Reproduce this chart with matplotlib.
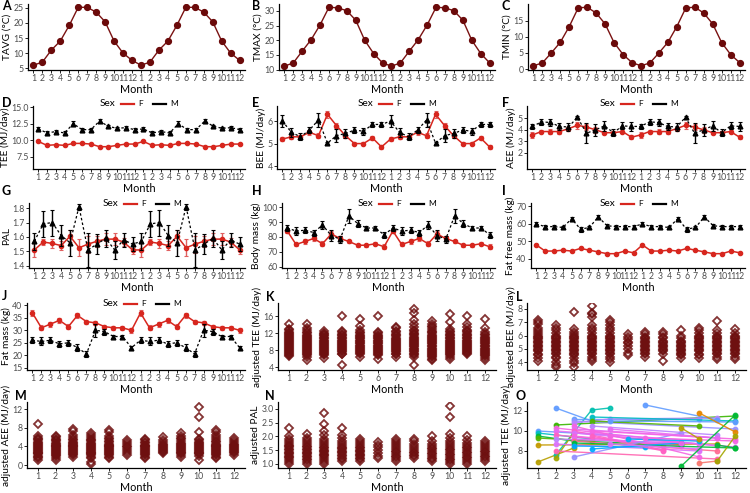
import numpy as np
import matplotlib
matplotlib.use('Agg')
import matplotlib.pyplot as plt
from matplotlib.lines import Line2D

plt.rcParams['font.family'] = ['Lato', 'DejaVu Sans']

# ---------------- data ----------------
months = [1, 2, 3, 4, 5, 6, 7, 8, 9, 10, 11, 12]
month_labels = [str(m) for m in months]

tavg = [6.0, 7.0, 11.0, 14.0, 19.2, 25.2, 25.2, 23.6, 20.4, 14.0, 10.0, 7.6]
tmax = [11.2, 12.3, 16.3, 20.2, 25.2, 31.2, 31.0, 30.0, 26.8, 20.0, 15.5, 12.3]
tmin = [1.0, 1.9, 5.0, 8.3, 13.2, 19.0, 19.2, 17.4, 14.0, 8.2, 4.5, 2.0]

tee_m = [11.7, 11.1, 11.3, 11.1, 12.5, 11.6, 11.6, 12.9, 12.1, 11.8, 11.9, 11.6]
tee_m_se = [0.25, 0.25, 0.25, 0.25, 0.35, 0.3, 0.3, 0.35, 0.25, 0.2, 0.2, 0.25]
tee_f = [9.8, 9.2, 9.3, 9.2, 9.5, 9.5, 9.4, 9.0, 9.0, 9.2, 9.4, 9.4]
tee_f_se = [0.12, 0.1, 0.1, 0.1, 0.12, 0.12, 0.12, 0.1, 0.1, 0.1, 0.1, 0.1]

bee_m = [6.0, 5.5, 5.3, 5.6, 6.05, 5.02, 5.35, 5.45, 5.6, 5.55, 5.85, 5.85]
bee_m_se = [0.25, 0.2, 0.15, 0.15, 0.3, 0.05, 0.3, 0.2, 0.15, 0.15, 0.12, 0.12]
bee_f = [5.2, 5.3, 5.3, 5.5, 5.35, 6.3, 5.8, 5.35, 5.0, 5.0, 5.25, 4.85]
bee_f_se = [0.1, 0.1, 0.1, 0.1, 0.1, 0.15, 0.1, 0.1, 0.08, 0.08, 0.08, 0.1]

aee_m = [4.3, 4.7, 4.65, 4.3, 4.25, 5.1, 3.7, 4.0, 4.35, 3.75, 4.35, 4.3]
aee_m_se = [0.2, 0.25, 0.3, 0.3, 0.35, 0.1, 0.9, 0.5, 0.45, 0.3, 0.3, 0.4]
aee_f = [3.55, 3.85, 3.85, 3.85, 4.1, 4.4, 4.25, 4.0, 3.75, 3.75, 3.85, 3.35]
aee_f_se = [0.25, 0.15, 0.2, 0.2, 0.15, 0.3, 0.3, 0.25, 0.15, 0.15, 0.15, 0.2]

pal_m = [1.57, 1.69, 1.70, 1.61, 1.56, 1.81, 1.51, 1.55, 1.59, 1.51, 1.58, 1.55]
pal_m_se = [0.06, 0.09, 0.09, 0.07, 0.09, 0.02, 0.12, 0.07, 0.06, 0.06, 0.05, 0.05]
pal_f = [1.51, 1.565, 1.555, 1.54, 1.605, 1.525, 1.55, 1.57, 1.585, 1.585, 1.565, 1.51]
pal_f_se = [0.05, 0.02, 0.03, 0.03, 0.04, 0.06, 0.06, 0.04, 0.04, 0.04, 0.03, 0.03]

bm_m = [86, 84, 84.5, 83, 88, 81, 78.5, 94, 89, 86, 86, 81.5]
bm_m_se = [2, 2.5, 2, 2, 2.5, 4, 2.5, 4.5, 2.5, 1.5, 1.5, 2]
bm_f = [84, 75, 77, 79, 75.5, 82, 79, 77, 74.5, 74.5, 75.5, 73.5]
bm_f_se = [1.5, 1, 1.5, 1.5, 1.5, 2, 2, 1, 1, 1, 1, 1.5]

ffm_m = [60, 58.5, 58.5, 58, 63, 57, 58, 64, 59, 58.5, 58.5, 58.5]
ffm_m_se = [1.2, 1, 1, 1, 1.2, 1.5, 1, 1.2, 1, 0.8, 0.8, 0.8]
ffm_f = [48, 44.5, 44.5, 45, 44.5, 46, 45, 44, 43, 43, 44.5, 43.5]
ffm_f_se = [0.6, 0.5, 0.5, 0.5, 0.5, 0.6, 0.5, 0.5, 0.5, 0.5, 0.5, 0.5]

fm_m = [26, 25.5, 26, 24.5, 25, 23, 20.5, 30, 29.5, 27.5, 27.5, 23]
fm_m_se = [1.2, 1.6, 1.2, 1.2, 1.2, 1.5, 1.3, 2.5, 1.2, 0.8, 0.8, 0.8]
fm_f = [37, 31, 32.5, 34, 31.5, 36, 33.5, 33, 31.5, 31, 31, 30]
fm_f_se = [1.2, 1, 1, 1, 1, 1, 0.8, 0.8, 0.8, 0.8, 0.8, 1]

adj_tee = [
    "6.6 6.9 7.1 7.3 7.6 7.8 8.0 8.3 8.5 8.7 9.0 9.2 9.4 9.7 9.9 10.1 10.4 10.6 10.8 11.1 11.3 11.5 11.8 12.1 12.4 12.7 13.1 14.3",
    "5.6 6.5 6.8 7.0 7.3 7.5 7.8 8.0 8.2 8.5 8.7 9.0 9.2 9.4 9.7 9.9 10.2 10.4 10.7 10.9 11.2 11.4 11.7 12.0 12.3 12.7 13.3 14.3",
    "6.2 6.8 7.0 7.3 7.5 7.8 8.0 8.3 8.5 8.8 9.0 9.3 9.5 9.8 10.0 10.3 10.5 10.8 11.0 11.3 11.5 11.8 12.1 12.5",
    "4.4 7.0 7.2 7.5 7.8 8.0 8.3 8.5 8.8 9.0 9.3 9.5 9.8 10.0 10.3 10.5 10.8 11.0 11.3 11.6 11.9 12.2 12.5 16.0",
    "6.4 7.0 7.3 7.5 7.8 8.0 8.3 8.6 8.8 9.1 9.3 9.6 9.8 10.1 10.3 10.6 10.8 11.1 11.4 11.7 12.0 12.4 12.8 13.8 15.5",
    "6.0 6.8 7.1 7.3 7.6 7.8 8.1 8.3 8.6 8.8 9.1 9.3 9.6 9.8 10.1 10.3 10.6 10.8 11.1 11.4 11.7 12.0 12.3 16.0",
    "6.3 7.0 7.2 7.5 7.7 8.0 8.2 8.5 8.7 9.0 9.2 9.5 9.7 10.0 10.2 10.5 10.7 11.0 11.3 11.6 11.9 12.2 12.6 13.2 13.6",
    "4.6 6.3 6.9 7.2 7.4 7.7 7.9 8.2 8.4 8.7 8.9 9.2 9.4 9.7 9.9 10.2 10.4 10.7 10.9 11.2 11.5 11.8 12.1 12.5 12.9 13.4 14.2 15.2 16.8 17.7",
    "5.6 6.0 6.3 6.6 6.9 7.1 7.4 7.6 7.9 8.1 8.4 8.6 8.9 9.1 9.4 9.6 9.9 10.1 10.4 10.6 10.9 11.1 11.4 11.7 12.0 12.3 12.6 13.0 13.4 13.8 14.3 15.0",
    "5.8 6.5 6.8 7.0 7.3 7.5 7.8 8.0 8.3 8.5 8.8 9.0 9.3 9.5 9.8 10.0 10.3 10.5 10.8 11.0 11.3 11.6 11.9 12.2 12.6 13.0 14.6 16.5",
    "7.0 7.3 7.5 7.8 8.0 8.3 8.5 8.8 9.0 9.3 9.5 9.8 10.0 10.3 10.5 10.8 11.0 11.3 11.6 11.9 12.2 12.5 12.9 13.4 14.2 16.0",
    "5.6 6.2 6.6 6.9 7.1 7.4 7.6 7.9 8.1 8.4 8.6 8.9 9.1 9.4 9.6 9.9 10.1 10.4 10.6 10.9 11.2 11.5 11.8 12.2 13.3 15.5",
]

adj_bee = [
    "4.1 4.3 4.5 4.6 4.8 4.9 5.0 5.1 5.2 5.3 5.4 5.5 5.6 5.7 5.8 5.9 6.0 6.1 6.3 6.4 6.6 6.9 7.0 7.2",
    "3.6 3.8 4.0 4.3 4.4 4.6 4.7 4.8 4.9 5.0 5.1 5.2 5.3 5.4 5.5 5.6 5.7 5.8 5.9 6.0 6.2 6.4 6.6 6.8",
    "3.6 3.9 4.1 4.3 4.5 4.6 4.7 4.8 4.9 5.0 5.1 5.2 5.3 5.4 5.5 5.6 5.7 5.8 5.9 6.0 6.1 6.3 6.5 7.8",
    "4.1 4.2 4.4 4.6 4.7 4.8 4.9 5.0 5.1 5.2 5.3 5.4 5.5 5.6 5.7 5.8 5.9 6.0 6.2 6.4 6.6 6.8 7.4 7.6 7.7 8.2",
    "4.0 4.2 4.4 4.6 4.7 4.8 4.9 5.0 5.1 5.2 5.3 5.4 5.5 5.6 5.7 5.8 5.9 6.0 6.2 6.4 6.6 6.8 7.0 7.2",
    "4.5 4.7 5.0 5.2 5.4 5.5 5.7 5.9 6.1",
    "4.4 4.6 4.7 4.8 4.9 5.0 5.1 5.2 5.3 5.4 5.5 5.6 5.7 5.8 5.9 6.1 6.3",
    "4.1 4.6 4.8 4.9 5.0 5.1 5.2 5.3 5.4 5.5 5.6 5.8 5.9 6.1 6.3",
    "4.3 4.5 4.6 4.7 4.8 4.9 5.0 5.1 5.2 5.3 5.4 5.5 5.6 5.8 6.0 6.4",
    "4.3 4.5 4.6 4.8 4.9 5.0 5.1 5.2 5.3 5.4 5.5 5.6 5.7 5.8 5.9 6.0 6.2 6.4 6.6",
    "4.2 4.4 4.6 4.7 4.8 4.9 5.0 5.1 5.2 5.3 5.4 5.5 5.6 5.7 5.8 5.9 6.0 6.2 6.4 7.1",
    "4.2 4.4 4.6 4.7 4.8 4.9 5.0 5.1 5.2 5.3 5.4 5.5 5.6 5.7 5.8 5.9 6.0 6.2 6.5",
]

adj_aee = [
    "1.2 1.5 1.8 2.0 2.3 2.5 2.7 2.9 3.1 3.3 3.5 3.7 3.9 4.1 4.3 4.5 4.7 5.0 5.3 5.6 5.9 6.2 8.7",
    "1.2 1.5 1.9 2.2 2.4 2.6 2.8 3.0 3.2 3.4 3.6 3.8 4.0 4.2 4.4 4.6 4.8 5.1 5.4 5.7 6.0 6.2",
    "1.8 2.1 2.4 2.6 2.8 3.0 3.2 3.4 3.6 3.8 4.0 4.2 4.4 4.6 4.8 5.0 5.3 5.6 6.0 6.5 7.2 7.8",
    "0.2 0.7 1.5 1.8 2.1 2.3 2.5 2.7 2.9 3.1 3.3 3.5 3.7 3.9 4.1 4.3 4.5 4.8 5.1 5.4 5.7 6.0 6.4 6.8",
    "1.5 1.8 2.1 2.4 2.6 2.8 3.0 3.2 3.4 3.6 3.8 4.0 4.2 4.4 4.6 4.9 5.2 5.5 5.9 6.3 7.0 7.5",
    "2.2 2.6 3.0 3.4 3.8 4.2 4.6 5.0 5.4",
    "1.5 1.8 2.1 2.4 2.6 2.8 3.0 3.2 3.4 3.6 3.8 4.0 4.2 4.4 4.7 5.0 5.3 5.7",
    "2.5 2.8 3.1 3.3 3.5 3.7 3.9 4.1 4.3 4.6 5.0 5.4 6.0",
    "1.8 2.2 2.5 2.7 2.9 3.1 3.3 3.5 3.7 3.9 4.1 4.3 4.5 4.8 5.1 5.5 5.9 6.3 6.8",
    "1.2 2.0 2.3 2.5 2.7 2.9 3.1 3.3 3.5 3.7 3.9 4.1 4.3 4.5 4.7 5.0 5.3 5.6 7.0 10.2 12.4",
    "1.5 1.8 2.1 2.4 2.6 2.8 3.0 3.2 3.4 3.6 3.8 4.0 4.2 4.4 4.6 4.9 5.2 5.6 6.0 6.5 7.1 7.6",
    "2.2 2.5 2.8 3.0 3.2 3.4 3.6 3.8 4.0 4.3 4.6 5.0 5.4 5.8",
]

adj_pal = [
    "1.00 1.08 1.14 1.20 1.25 1.30 1.35 1.40 1.45 1.50 1.55 1.60 1.65 1.70 1.76 1.82 1.90 2.00 2.30",
    "1.00 1.07 1.13 1.19 1.25 1.30 1.35 1.40 1.45 1.50 1.55 1.60 1.65 1.71 1.78 1.86 1.95 2.10",
    "1.00 1.08 1.15 1.21 1.27 1.32 1.37 1.42 1.47 1.52 1.57 1.62 1.68 1.75 1.83 1.92 2.05 2.20 2.45 2.85",
    "1.10 1.16 1.22 1.28 1.33 1.38 1.43 1.48 1.53 1.58 1.63 1.69 1.76 1.84 1.93 2.05 2.30",
    "1.10 1.16 1.22 1.27 1.32 1.37 1.42 1.47 1.52 1.57 1.62 1.68 1.75 1.83 1.92",
    "1.20 1.30 1.40 1.50 1.60 1.70 1.80",
    "1.10 1.17 1.24 1.30 1.36 1.42 1.48 1.54 1.60 1.67 1.75 1.83 1.92",
    "1.20 1.27 1.33 1.39 1.45 1.51 1.57 1.64 1.72 1.82 1.92",
    "1.10 1.17 1.23 1.29 1.35 1.41 1.47 1.53 1.59 1.66 1.74 1.84 2.00",
    "1.00 1.07 1.13 1.19 1.25 1.31 1.37 1.43 1.49 1.55 1.61 1.68 1.76 1.85 1.95 2.10 2.70 3.10",
    "1.00 1.07 1.14 1.20 1.26 1.32 1.38 1.44 1.50 1.56 1.62 1.69 1.77 1.87 2.00",
    "1.10 1.17 1.24 1.30 1.36 1.42 1.48 1.54 1.60 1.67 1.75 1.85",
]

# individual trajectories for panel O: (months, adjusted TEE)
indiv_months = [
    [1, 5], [1, 4], [1, 3, 9], [1, 3], [1, 4], [1, 11], [2, 4], [2, 4, 5], [2, 3], [2, 12],
    [2, 11], [2, 10], [2, 8], [2, 9], [2, 10], [2, 11], [3, 10], [3, 12], [3, 5, 11], [3, 10],
    [3, 11], [3, 8], [3, 12], [3, 9], [3, 10], [3, 11], [3, 12], [3, 7], [3, 9], [4, 12],
    [4, 10], [4, 11], [4, 12], [4, 8], [4, 9], [5, 12], [5, 11], [5, 9], [5, 10], [6, 10],
    [7, 11], [7, 12], [9, 12], [9, 10], [10, 12], [10, 11], [11, 12], [11, 12],
]
indiv_tee = [
    [10.0, 9.6], [9.8, 9.2], [9.5, 9.0, 8.6], [6.9, 8.3], [9.3, 9.0], [8.6, 8.7], [12.3, 11.0], [7.6, 12.1, 12.3], [7.3, 9.8], [10.6, 11.5],
    [10.3, 8.5], [10.0, 9.0], [9.6, 8.6], [9.2, 8.8], [8.7, 8.0], [8.0, 7.2], [11.2, 11.2], [11.0, 10.2], [10.8, 11.2, 11.3], [10.5, 7.4],
    [10.2, 9.3], [10.0, 8.1], [9.8, 8.4], [9.5, 8.5], [9.2, 8.7], [9.0, 8.0], [8.8, 8.3], [8.5, 8.4], [7.4, 9.8], [11.4, 11.0],
    [11.0, 10.5], [10.5, 9.6], [10.0, 9.2], [9.5, 8.0], [8.2, 8.8], [11.0, 10.9], [10.2, 9.3], [9.5, 8.8], [8.7, 8.2], [9.2, 9.0],
    [12.6, 11.1], [9.3, 9.0], [6.5, 11.6], [10.3, 9.2], [11.8, 9.9], [6.8, 7.0], [7.0, 9.5], [8.6, 8.3],
]
indiv_colors = [
    '#619CFF', '#00BFC4', '#00BA38', '#B79F00', '#53B400', '#C49A00', '#619CFF', '#00C0AF', '#A3A500', '#39B600',
    '#F564E3', '#E76BF3', '#FF61C3', '#B983FF', '#DB72FB', '#FF64B0', '#619CFF', '#9590FF', '#B983FF', '#F564E3',
    '#E76BF3', '#FF61C3', '#DB72FB', '#F564E3', '#E76BF3', '#FF6C91', '#00BA38', '#00A9FF', '#9590FF', '#00BFC4',
    '#53B400', '#B983FF', '#F564E3', '#FF61C3', '#00A9FF', '#619CFF', '#E76BF3', '#F564E3', '#DB72FB', '#00B0F6',
    '#619CFF', '#F564E3', '#00BA38', '#B79F00', '#E58700', '#F8766D', '#A3A500', '#00BA38',
]

# ---------------- style ----------------
W, H = 750, 493
RED = '#D7261E'
DARK = '#6B0A0A'
GREY = '#4D4D4D'
TICK_FS = 6.3
LAB_FS = 7.3
XLAB_FS = 7.8

fig = plt.figure(figsize=(W / 100, H / 100), dpi=100)


def add_ax(x0, y0, x1, y1):
    ax = fig.add_axes([x0 / W, 1 - y1 / H, (x1 - x0) / W, (y1 - y0) / H])
    for s in ['top', 'right']:
        ax.spines[s].set_visible(False)
    for s in ['left', 'bottom']:
        ax.spines[s].set_linewidth(0.9)
    ax.tick_params(labelsize=TICK_FS, labelcolor=GREY, length=2.2, width=0.6, pad=1.0)
    return ax


def letter(x, y, t):
    fig.text(x / W, 1 - y / H, t, fontsize=9, fontweight='bold', va='center', ha='left')


def month_axis(ax, n):
    if n == 24:
        ax.set_xticks(np.arange(1, 25))
        ax.set_xticklabels(month_labels * 2)
        ax.set_xlim(0.4, 24.6)
    else:
        ax.set_xticks(months)
        ax.set_xticklabels(month_labels)
        ax.set_xlim(0.4, 12.6)
    ax.set_xlabel('Month', fontsize=XLAB_FS, labelpad=0.5)


def sex_legend(xp, yp):
    fx = lambda p: p / W
    fy = lambda p: 1 - p / H
    fig.text(fx(xp), fy(yp), 'Sex', fontsize=7.2, va='center', ha='left')
    fig.add_artist(Line2D([fx(xp + 21), fx(xp + 34)], [fy(yp)] * 2, color=RED, lw=1.6))
    fig.text(fx(xp + 38), fy(yp), 'F', fontsize=6, va='center', ha='left')
    fig.add_artist(Line2D([fx(xp + 53), fx(xp + 66)], [fy(yp)] * 2, color='black', lw=1.6))
    fig.text(fx(xp + 70), fy(yp), 'M', fontsize=6, va='center', ha='left')


# row geometry (pixel)
rows = [(4, 70), (106, 169), (203, 268), (303, 370), (402, 468)]

# ---- Row 1: weather ----
for (vals, lab, lim, ticks, x0, x1, lx, L) in [
    (tavg, 'TAVG (°C)', (4.4, 26.3), [5, 10, 15, 20, 25], 28, 245, 2, 'A'),
    (tmax, 'TMAX (°C)', (9.9, 32.3), [10, 15, 20, 25, 30], 279, 495, 252, 'B'),
    (tmin, 'TMIN (°C)', (-0.3, 20.2), [0, 5, 10, 15], 528, 745, 502, 'C'),
]:
    ax = add_ax(x0, rows[0][0], x1, rows[0][1])
    x = np.arange(1, 25)
    ax.plot(x, vals * 2, color='#7A1212', lw=1.0, marker='o', ms=4.2,
            mfc=DARK, mec=DARK)
    ax.set_ylim(*lim)
    ax.set_yticks(ticks)
    ax.set_ylabel(lab, fontsize=LAB_FS, labelpad=1)
    month_axis(ax, 24)
    letter(lx, 6, L)

# ---- Rows 2-4: sex panels ----
sex_specs = [
    (1, 33, 245, 2, 'D', tee_m, tee_m_se, tee_f, tee_f_se, 'TEE (MJ/day)', (5.6, 15.2), [7.5, 10.0, 12.5, 15.0], ['7.5', '10.0', '12.5', '15.0'], 100),
    (1, 277, 495, 252, 'E', bee_m, bee_m_se, bee_f, bee_f_se, 'BEE (MJ/day)', (3.87, 6.67), [4, 5, 6], None, 358),
    (1, 527, 745, 502, 'F', aee_m, aee_m_se, aee_f, aee_f_se, 'AEE (MJ/day)', (0.55, 6.1), [2, 3, 4, 5], None, 600),
    (2, 29, 245, 2, 'G', pal_m, pal_m_se, pal_f, pal_f_se, 'PAL', (1.385, 1.835), [1.4, 1.5, 1.6, 1.7, 1.8], None, 103),
    (2, 282, 495, 252, 'H', bm_m, bm_m_se, bm_f, bm_f_se, 'Body mass (kg)', (59.3, 102.7), [60, 70, 80, 90, 100], None, 358),
    (2, 531, 745, 502, 'I', ffm_m, ffm_m_se, ffm_f, ffm_f_se, 'Fat free mass (kg)', (34.8, 72.0), [40, 50, 60, 70], None, 600),
    (3, 27, 245, 2, 'J', fm_m, fm_m_se, fm_f, fm_f_se, 'Fat mass (kg)', (14.0, 41.0), [15, 20, 25, 30, 35, 40], None, 103),
]
letter_y = {1: 103, 2: 191, 3: 296}
legend_y = {1: 104, 2: 204, 3: 304}
for (r, x0, x1, lx, L, m, mse, f, fse, lab, lim, ticks, tl, lgx) in sex_specs:
    ax = add_ax(x0, rows[r][0], x1, rows[r][1])
    x = np.arange(1, 25)
    ax.errorbar(x, f * 2, yerr=fse * 2, color=RED, ecolor='#E06060', marker='o', ms=3.0,
                lw=1.1, elinewidth=1.0, capsize=1.5, capthick=0.8, zorder=3)
    ax.errorbar(x, m * 2, yerr=mse * 2, color='black', marker='^', ms=3.4,
                lw=0.9, ls=(0, (2, 1.8)), elinewidth=1.0, capsize=1.5, capthick=0.8, zorder=4)
    ax.set_ylim(*lim)
    ax.set_yticks(ticks)
    if tl:
        ax.set_yticklabels(tl)
    ax.set_ylabel(lab, fontsize=LAB_FS, labelpad=1)
    month_axis(ax, 24)
    letter(lx, letter_y[r], L)
    sex_legend(lgx, legend_y[r])

# ---- scatter panels K, L, M, N ----
scat_specs = [
    (3, 278, 496, 266, 'K', adj_tee, 'adjusted TEE (MJ/day)', (3.3, 19.2), [4, 8, 12, 16]),
    (3, 527, 746, 516, 'L', adj_bee, 'adjusted BEE (MJ/day)', (3.4, 8.45), [4, 5, 6, 7, 8]),
    (4, 27, 245, 15, 'M', adj_aee, 'adjusted AEE (MJ/day)', (-0.6, 13.5), [0, 4, 8, 12]),
    (4, 278, 496, 265, 'N', adj_pal, 'adjusted PAL', (0.85, 3.25), [1.0, 1.5, 2.0, 2.5, 3.0]),
]
for (r, x0, x1, lx, L, data, lab, lim, ticks) in scat_specs:
    ax = add_ax(x0, rows[r][0], x1, rows[r][1])
    for mo, s in zip(months, data):
        v = [float(t) for t in s.split()]
        ax.plot([mo] * len(v), v, ls='none', marker='D', ms=4.4, mfc='none',
                mec='#6E1010', mew=1.3, alpha=0.85)
    ax.set_ylim(*lim)
    ax.set_yticks(ticks)
    if L == 'N':
        ax.set_yticklabels(['1.0', '1.5', '2.0', '2.5', '3.0'])
    ax.set_ylabel(lab, fontsize=LAB_FS, labelpad=1)
    month_axis(ax, 12)
    letter(lx, 297 if r == 3 else 396, L)

# ---- panel O ----
ax = add_ax(527, rows[4][0], 746, rows[4][1])
for mo, v, c in zip(indiv_months, indiv_tee, indiv_colors):
    ax.plot(mo, v, color=c, lw=1.0, marker='o', ms=3.2, alpha=0.9)
ax.set_ylim(6.3, 12.9)
ax.set_yticks([8, 10, 12])
ax.set_ylabel('adjusted TEE (MJ/day)', fontsize=LAB_FS, labelpad=1)
month_axis(ax, 12)
letter(516, 396, 'O')

fig.savefig('out.png', dpi=100)
